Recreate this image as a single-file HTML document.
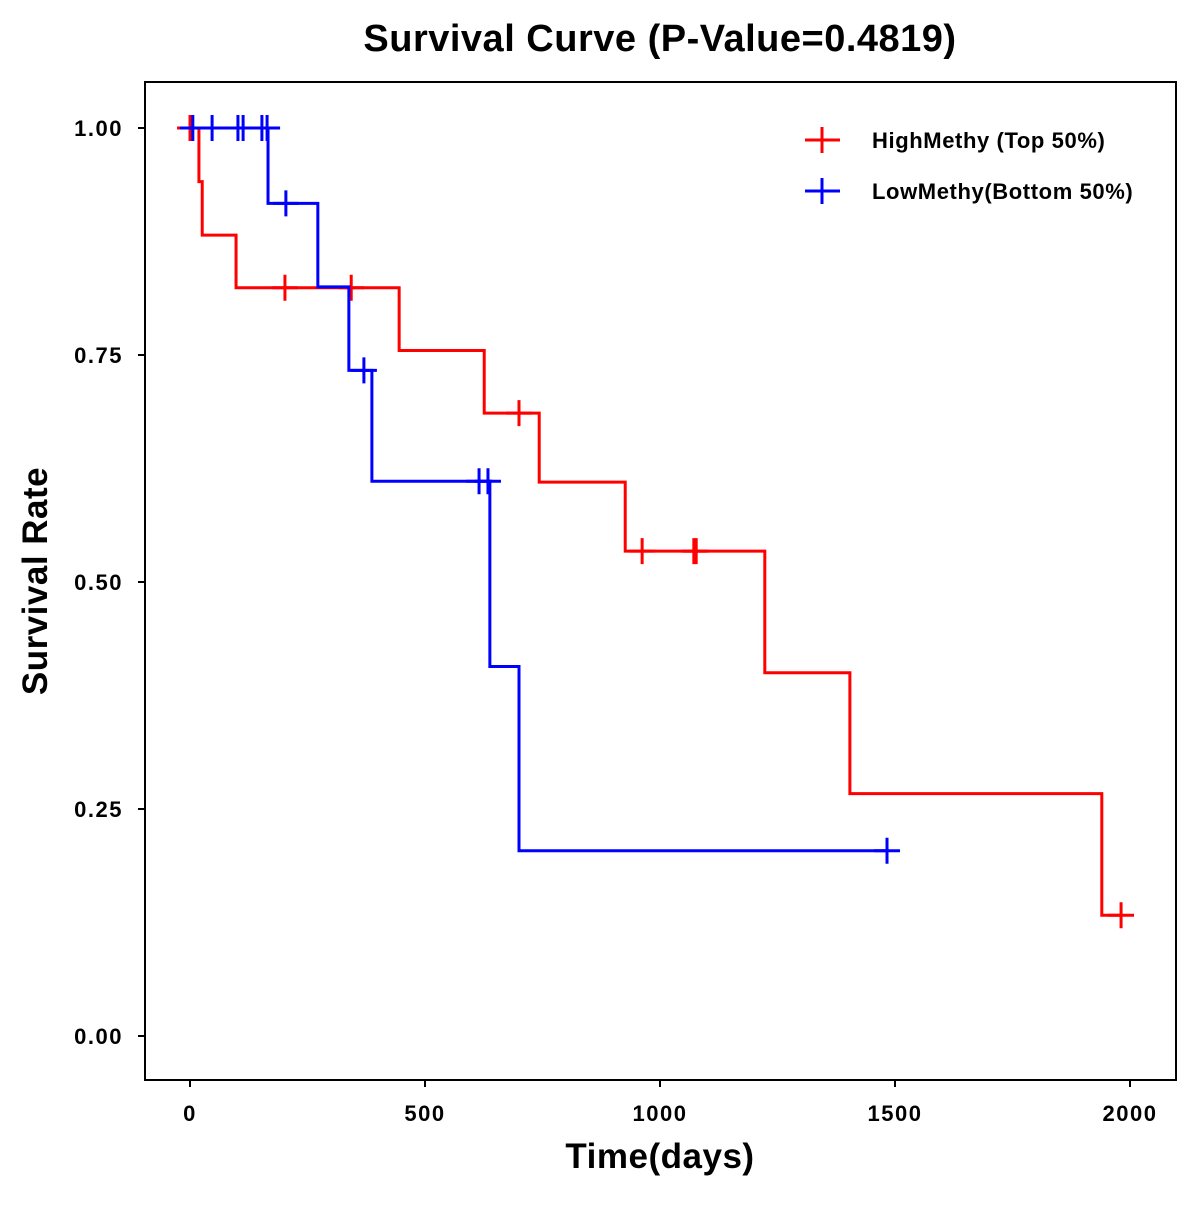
<!DOCTYPE html>
<html><head><meta charset="utf-8"><style>
body{margin:0;background:#fff}
svg{font-family:"Liberation Sans",Arial,sans-serif;font-weight:bold}
</style></head><body>
<svg width="1200" height="1200" viewBox="0 0 1200 1200">
<rect width="1200" height="1200" fill="#fff"/>
<text x="660" y="51" text-anchor="middle" font-size="38" letter-spacing="0.5">Survival Curve (P-Value=0.4819)</text>
<rect x="145" y="82" width="1031" height="998" fill="none" stroke="#000" stroke-width="2"/>
<g id="axes"></g>
<g id="series"></g>
<text x="660" y="1168" text-anchor="middle" font-size="35" letter-spacing="0.5">Time(days)</text>
<text transform="translate(47,581) rotate(-90)" text-anchor="middle" font-size="35" letter-spacing="0.5">Survival Rate</text>
<g>
<line x1="805" y1="140" x2="840" y2="140" stroke="red" stroke-width="3"/><line x1="822" y1="127" x2="822" y2="153" stroke="red" stroke-width="3"/>
<text x="872" y="148" font-size="22" letter-spacing="0.6">HighMethy (Top 50%)</text>
<line x1="805" y1="191" x2="840" y2="191" stroke="blue" stroke-width="3"/><line x1="822" y1="178" x2="822" y2="204" stroke="blue" stroke-width="3"/>
<text x="872" y="199" font-size="22" letter-spacing="0.6">LowMethy(Bottom 50%)</text>
</g>
</svg>
<script>
const xTicks=[0,500,1000,1500,2000];
const yTicks=[0,0.25,0.5,0.75,1];
const yTickLabels=["0.00","0.25","0.50","0.75","1.00"];
const highTimes=[19,26,98,445,626,743,926,1223,1404,1940];
const highSurv=[0.941,0.882,0.824,0.755,0.686,0.610,0.534,0.400,0.267,0.133];
const highCensor=[0,202,343,700,962,1072,1077,1981];
const lowTimes=[166,272,338,387,638,700];
const lowSurv=[0.917,0.825,0.733,0.611,0.407,0.204];
const lowCensor=[6,47,102,113,153,164,204,370,615,634,1483];
const NS="http://www.w3.org/2000/svg";
const X=d=>190+d*0.47, Y=s=>1036-s*908;
function mk(tag,attrs,parent){const e=document.createElementNS(NS,tag);for(const k in attrs)e.setAttribute(k,attrs[k]);parent.appendChild(e);return e;}
const ax=document.getElementById('axes');
xTicks.forEach(t=>{
 const l=mk('line',{x1:X(t),x2:X(t),y1:1080,y2:1087,stroke:'#000','stroke-width':2},ax);
 
 
 const tx=mk('text',{x:X(t),y:1121,'text-anchor':'middle','font-size':22,'letter-spacing':1.5},ax);tx.textContent=t;
 
 
});
yTicks.forEach((t,i)=>{
 const l=mk('line',{x1:138,x2:145,y1:Y(t),y2:Y(t),stroke:'#000','stroke-width':2},ax);
 
 
 const tx=mk('text',{x:123,y:Y(t)+8,'text-anchor':'end','font-size':22,'letter-spacing':1.5},ax);tx.textContent=yTickLabels[i];
 
 
});
const sg=document.getElementById('series');
function survAt(times,surv,t){let s=1;for(let i=0;i<times.length;i++)if(times[i]<=t)s=surv[i];return s;}
function draw(times,surv,cens,color,name){
 const end=Math.max(times[times.length-1],cens[cens.length-1]);
 let d=`M${X(0)},${Y(1)}`;
 times.forEach((t,i)=>{d+=` H${X(t)} V${Y(surv[i])}`;});
 d+=` H${X(end)}`;
 const p=mk('path',{d:d,fill:'none',stroke:color,'stroke-width':3},sg);
 
 
 cens.forEach(c=>{
  const x=X(c),y=Y(survAt(times,surv,c));
  const g=mk('path',{d:`M${x-13},${y} H${x+13} M${x},${y-13} V${y+13}`,stroke:color,'stroke-width':3,fill:'none'},sg);
  
  
 });
}
draw(highTimes,highSurv,highCensor,'red','high-methy');
draw(lowTimes,lowSurv,lowCensor,'blue','low-methy');
</script>
</body></html>
